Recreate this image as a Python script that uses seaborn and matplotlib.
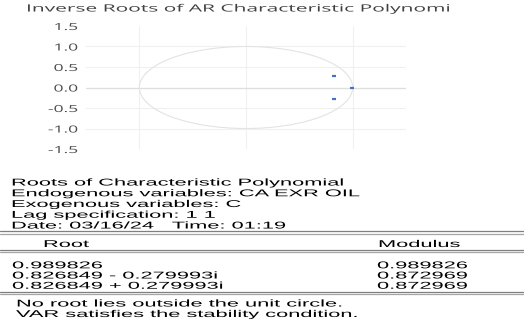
import matplotlib
matplotlib.use("Agg")
import matplotlib.pyplot as plt
import seaborn as sns
from matplotlib.patches import Circle
from matplotlib.lines import Line2D
from matplotlib.patheffects import AbstractPathEffect
from matplotlib.transforms import Affine2D

# ---------------- data ----------------
title = "Inverse Roots of AR Characteristic Polynomi"
root_re = [0.989826, 0.826849, 0.826849]
root_im = [0.0, -0.279993, 0.279993]
y_ticks = [-1.5, -1.0, -0.5, 0.0, 0.5, 1.0, 1.5]
x_grid = [-1.0, 0.0, 1.0, 1.5]
header_lines = ["Roots of Characteristic Polynomial",
                "Endogenous variables: CA EXR OIL",
                "Exogenous variables: C",
                "Lag specification: 1 1",
                "Date: 03/16/24   Time: 01:19"]
col_headers = ["Root", "Modulus"]
root_labels = ["0.989826", "0.826849 - 0.279993i", "0.826849 + 0.279993i"]
modulus = ["0.989826", "0.872969", "0.872969"]
footer = ["No root lies outside the unit circle.",
          "VAR satisfies the stability condition."]

# ---------------- style ----------------
sns.set_theme(style="white")
plt.rcParams["font.family"] = ["DejaVu Sans"]

W, H = 524, 328
def fx(x): return x / W
def fy(y): return 1 - y / H


class Stretch(AbstractPathEffect):
    """Stretch text glyphs horizontally about an anchor."""
    def __init__(self, sx, anchor="left"):
        super().__init__()
        self.sx = sx
        self.anchor = anchor

    def draw_path(self, renderer, gc, tpath, affine, rgbFace=None):
        ext = tpath.get_extents()
        if self.anchor == "right":
            a = ext.x1
        elif self.anchor == "center":
            a = (ext.x0 + ext.x1) / 2
        else:
            a = 0
        t = Affine2D().translate(-a, 0).scale(self.sx, 1).translate(a, 0) + affine
        renderer.draw_path(gc, tpath, t, rgbFace)


fig = plt.figure(figsize=(5.24, 3.28), dpi=100)
fig.patch.set_facecolor("white")

ax = fig.add_axes([fx(86), fy(149), (406 - 86) / W, (149 - 26) / H])
ax.set_xlim(-1.5, 1.5)
ax.set_ylim(-1.5, 1.5)
for s in ax.spines.values():
    s.set_visible(False)

ax.set_xticks(x_grid)
ax.set_xticklabels([])
ax.set_yticks(y_ticks)
ax.set_yticklabels([f"{v:.1f}" for v in y_ticks])
ax.tick_params(axis="both", length=0)
ax.tick_params(axis="y", pad=5.8, labelsize=7, labelcolor="#4D4D4D")
for lab in ax.get_yticklabels():
    lab.set_fontfamily("Open Sans")
ax.grid(True, color="#F0F0F0", lw=0.8)
ticks = ax.yaxis.get_major_ticks()
ticks[0].gridline.set_visible(False)
ticks[-1].gridline.set_visible(False)
ax.axhline(0, color="#DEDEDE", lw=0.9, zorder=1)

ax.add_patch(Circle((0, 0), 1, fill=False, ec="#E3E3E3", lw=0.8, zorder=2))
sns.scatterplot(x=root_re, y=root_im, ax=ax, marker="_", s=12,
                linewidth=1.6, color="#4472C4", zorder=3)
ax.set_xlabel("")
ax.set_ylabel("")

# title
t_title = fig.text(fx(26), fy(11.5), title, fontsize=7.2, family="Open Sans",
                   color="#404040", va="baseline", ha="left")

# lower text block
tfont = dict(fontsize=7.1, family="Liberation Sans", color="black",
             va="baseline", ha="left")
lower_texts = []
for i, line in enumerate(header_lines):
    lower_texts.append(fig.text(fx(11), fy(185.5 + i * 10.75), line, **tfont))
lower_texts.append(fig.text(fx(43), fy(247), col_headers[0], **tfont))
lower_texts.append(fig.text(fx(378), fy(247), col_headers[1], **tfont))
for i, (r, m) in enumerate(zip(root_labels, modulus)):
    lower_texts.append(fig.text(fx(12), fy(268.3 + i * 10.2), r, **tfont))
    lower_texts.append(fig.text(fx(377), fy(268.3 + i * 10.2), m, **tfont))
for i, line in enumerate(footer):
    lower_texts.append(fig.text(fx(16), fy(306.5 + i * 10.5), line, **tfont))

# double rules of the table
for y in [231, 249.5, 291.5]:
    fig.add_artist(Line2D([0, 1], [fy(y), fy(y)], transform=fig.transFigure,
                          color="#7F7F7F", lw=0.9))
    fig.add_artist(Line2D([0, 1], [fy(y + 2.5), fy(y + 2.5)], transform=fig.transFigure,
                          color="#A6A6A6", lw=0.9))

# horizontal stretching of the text to match the reference
fig.canvas.draw()
r = fig.canvas.get_renderer()
sx_title = 425 / t_title.get_window_extent(r).width
t_title.set_path_effects([Stretch(sx_title)])
sx_low = 333 / lower_texts[0].get_window_extent(r).width
for t in lower_texts:
    t.set_path_effects([Stretch(sx_low)])
labs = ax.get_yticklabels()
w15 = [l for l in labs if l.get_text() == "1.5"][0].get_window_extent(r).width
sx_tick = 25 / w15
for l in labs:
    l.set_path_effects([Stretch(sx_tick, anchor="right")])

fig.savefig("out.png", dpi=100, facecolor="white")
